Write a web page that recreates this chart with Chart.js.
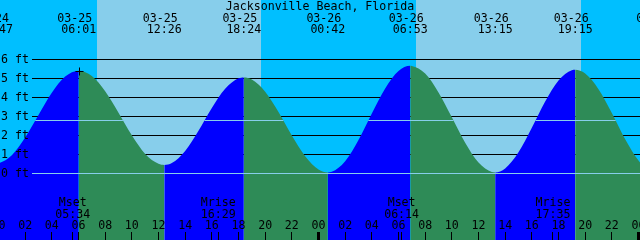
<!DOCTYPE html>
<html><head><meta charset="utf-8">
<script src="https://cdn.jsdelivr.net/npm/chart.js@4.4.1/dist/chart.umd.min.js"></script>
<style>html,body{margin:0;padding:0;background:#fff;}canvas{display:block;}</style>
</head><body>
<canvas id="c" width="640" height="240"></canvas>
<script>
// ---- data (hours since 03-25 00:00, heights in feet) ----
const title = 'Jacksonville Beach, Florida';
const tideHours = [-0.217,0,1,2,3,4,5,6.017,7,8,9,10,11,12,12.433,13,14,15,16,17,18,18.4,19,20,21,22,23,24,24.7,25,26,27,28,29,30,30.883,31,32,33,34,35,36,37,37.25,38,39,40,41,42,43,43.25,44,45,46,47,48,48.5];
const tideFeet  = [0.50,0.52,0.95,1.88,3.07,4.24,5.09,5.40,5.12,4.32,3.19,2.00,1.02,0.50,0.44,0.54,1.18,2.24,3.44,4.45,5.00,5.05,4.94,4.30,3.23,1.99,0.90,0.20,0.05,0.08,0.64,1.76,3.15,4.47,5.38,5.66,5.655,5.25,4.26,2.95,1.61,0.57,0.07,0.05,0.26,1.11,2.40,3.78,4.89,5.43,5.45,5.25,4.43,3.18,1.80,0.67,0.28];
const eventHours = [-0.217,6.017,12.433,18.4,24.7,30.883,37.25,43.25,49.44];
const eventDates = ['03-24','03-25','03-25','03-25','03-26','03-26','03-26','03-26','03-27'];
const eventTimes = ['23:47','06:01','12:26','18:24','00:42','06:53','13:15','19:15','01:26'];
const sunRise = [7.39, 31.31];
const sunSet  = [19.69, 43.69];
const moonHours = [5.567, 16.483, 30.233, 41.583];
const moonKinds = ['Mset','Mrise','Mset','Mrise'];
const moonTimes = ['05:34','16:29','06:14','17:35'];
const hourTicks = [0,2,4,6,8,10,12,14,16,18,20,22,24,26,28,30,32,34,36,38,40,42,44,46,48];
const hourLabels = ['00','02','04','06','08','10','12','14','16','18','20','22','00','02','04','06','08','10','12','14','16','18','20','22','00'];
const ftLevels = [0,1,2,3,4,5,6];
const ftLabels = ['0 ft','1 ft','2 ft','3 ft','4 ft','5 ft','6 ft'];
const mslFeet = 2.78;
const markHours = [6.075];
const markFeet = [5.36];

const xmin = 0.1125, xmax = 48.1125;
const ymin = -(240 - 173.33) / 19, ymax = 173.33 / 19;
const FONT = '11.6px "DejaVu Sans Mono", monospace';
const NIGHT = '#00BFFF', DAY = '#87CEEB', RISE = '#0000FF', FALL = '#2E8B57', LIGHT = '#87CEEB';

const bgPlugin = {
  id: 'bg',
  beforeDatasetsDraw(chart) {
    const {ctx, scales: {x, y}} = chart;
    ctx.save();
    ctx.fillStyle = NIGHT;
    ctx.fillRect(0, 0, chart.width, chart.height);
    ctx.fillStyle = DAY;
    for (let i = 0; i < sunRise.length; i++) {
      const a = Math.round(x.getPixelForValue(sunRise[i]));
      const b = Math.round(x.getPixelForValue(sunSet[i]));
      ctx.fillRect(a, 0, b - a, chart.height);
    }
    ctx.strokeStyle = '#000';
    ctx.lineWidth = 1;
    ctx.beginPath();
    for (const f of ftLevels) {
      const py = Math.floor(y.getPixelForValue(f)) + 0.5;
      ctx.moveTo(32, py); ctx.lineTo(chart.width, py);
    }
    ctx.stroke();
    ctx.restore();
  }
};

const fgPlugin = {
  id: 'fg',
  afterDatasetsDraw(chart) {
    const {ctx, scales: {x, y}} = chart;
    const pts = chart.getDatasetMeta(1).data;
    // light lines (datum and mean level) drawn over the water only
    ctx.save();
    ctx.beginPath();
    ctx.moveTo(pts[0].x, pts[0].y);
    for (let i = 1; i < pts.length; i++) {
      const p = pts[i - 1], q = pts[i];
      ctx.bezierCurveTo(p.cp2x, p.cp2y, q.cp1x, q.cp1y, q.x, q.y);
    }
    ctx.lineTo(pts[pts.length - 1].x, chart.height);
    ctx.lineTo(pts[0].x, chart.height);
    ctx.closePath();
    ctx.clip();
    ctx.strokeStyle = LIGHT;
    ctx.lineWidth = 1;
    ctx.beginPath();
    for (const f of [0, mslFeet]) {
      const py = Math.floor(y.getPixelForValue(f)) + 0.5;
      ctx.moveTo(32, py); ctx.lineTo(chart.width, py);
    }
    ctx.stroke();
    ctx.restore();

    ctx.save();
    ctx.fillStyle = '#000';
    ctx.font = FONT;
    ctx.textBaseline = 'alphabetic';
    ctx.textAlign = 'center';
    ctx.fillText(title, 320, 10);
    for (let i = 0; i < eventHours.length; i++) {
      const px = x.getPixelForValue(eventHours[i]);
      ctx.fillText(eventDates[i], px - 4, 21.7);
      ctx.fillText(eventTimes[i], px, 33.3);
    }
    for (let i = 0; i < hourTicks.length; i++) {
      const px = x.getPixelForValue(hourTicks[i]);
      ctx.fillText(hourLabels[i], px, 229);
      if (hourTicks[i] % 24 === 0) ctx.fillRect(Math.floor(px) - 1, 232, 3, 8);
      else ctx.fillRect(Math.floor(px), 232, 1, 8);
    }
    for (let i = 0; i < moonHours.length; i++) {
      const px = x.getPixelForValue(moonHours[i]);
      ctx.fillText(moonKinds[i], px, 206);
      ctx.fillText(moonTimes[i], px, 217.7);
      ctx.fillRect(Math.floor(px), 232, 1, 8);
    }
    ctx.textAlign = 'left';
    for (let i = 0; i < ftLevels.length; i++) {
      const py = y.getPixelForValue(ftLevels[i]);
      ctx.fillText(ftLabels[i], 1, py + 3.7);
    }
    ctx.restore();
  }
};

new Chart(document.getElementById('c'), {
  type: 'line',
  data: {
    datasets: [
      {
        label: 'mark', type: 'scatter',
        data: markHours.map((h, i) => ({x: h, y: markFeet[i]})),
        pointStyle: 'cross', pointRadius: 4, pointBorderWidth: 1,
        pointBorderColor: '#000', borderColor: '#000', backgroundColor: '#000', showLine: false
      },
      {
        label: 'tide',
        data: tideHours.map((h, i) => ({x: h, y: tideFeet[i]})),
        fill: 'start', borderWidth: 0, pointRadius: 0,
        cubicInterpolationMode: 'monotone',
        backgroundColor: FALL, borderColor: 'rgba(0,0,0,0)',
        segment: {
          backgroundColor: c => (c.p1.parsed.y > c.p0.parsed.y ? RISE : FALL)
        }
      }
    ]
  },
  options: {
    responsive: false, animation: false, devicePixelRatio: 1,
    layout: {padding: 0, autoPadding: false}, events: [],
    scales: {
      x: {type: 'linear', min: xmin, max: xmax, display: false},
      y: {type: 'linear', min: ymin, max: ymax, display: false}
    },
    plugins: {legend: {display: false}, tooltip: {enabled: false}, title: {display: false}}
  },
  plugins: [bgPlugin, fgPlugin]
});
</script>
</body></html>
